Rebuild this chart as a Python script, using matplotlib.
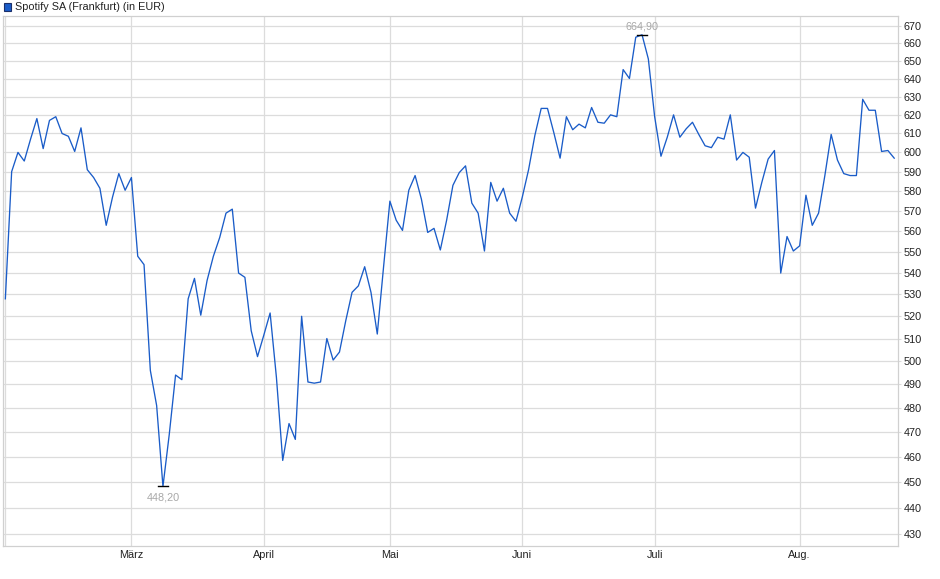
import matplotlib
matplotlib.use("Agg")
import matplotlib.pyplot as plt
import matplotlib.ticker as mticker
from matplotlib.patches import Rectangle
import numpy as np

plt.rcParams['font.family'] = ['Liberation Sans', 'DejaVu Sans']

title = "Spotify SA (Frankfurt) (in EUR)"

# Schlusskurse je Handelstag, 03.02. - 22.08.
prices = [
    528, 590, 600, 595.5, 607, 618, 602, 617, 619, 610,
    608.5, 600.5, 613, 591, 587, 581.5, 563, 577, 589, 580.5,
    587, 548, 544, 496, 481, 448.2, 469, 494, 492, 528,
    537.5, 520.5, 536.5, 548, 557, 569, 571, 540, 538, 513.5,
    502, 511.5, 521.5, 493, 458.5, 473.5, 467, 520, 491, 490.5,
    491, 510, 500.5, 504, 518, 531, 534, 543, 531, 512,
    543, 575, 565.5, 560.5, 580.5, 588, 576, 559.5, 561.5, 551,
    565.5, 583, 589.5, 593, 574, 569, 550.5, 584.5, 575, 581.5,
    569, 565, 577, 591, 609, 623.5, 623.5, 610.5, 597, 619,
    612, 615, 613, 624, 616, 615.5, 620, 619, 645, 640,
    663.5, 664.9, 651, 619, 598, 608, 620, 608, 612.5, 616,
    609.5, 603.5, 602.5, 608, 607, 620, 596, 600, 597.5, 571.5,
    584.5, 596.5, 601, 540, 557.5, 550.5, 553, 578, 563, 569,
    588, 609.5, 596, 589, 588, 588, 628.5, 622.5, 622.5, 600.5,
    601, 597,
]

month_labels = ["", "März", "April", "Mai", "Juni", "Juli", "Aug."]
month_pos = [0, 20, 41, 61, 82, 103, 126]
y_ticks = list(range(430, 680, 10))

line_col = "#1a5cc8"
grid_col = "#dcdcdc"
fs = 7.8

fig = plt.figure(figsize=(9.4, 5.79), dpi=100)
ax = fig.add_axes([2.7 / 940, 33.3 / 579, 895.6 / 940, 529.7 / 579])

x = np.arange(len(prices))
y = np.array(prices)
ax.plot(x, y, color=line_col, lw=0.95, zorder=3)

ax.set_yscale('log')
ax.set_ylim(425.6, 675.9)
ax.set_xlim(-0.42, 141.65)
ax.yaxis.set_major_locator(mticker.FixedLocator(y_ticks))
ax.yaxis.set_major_formatter(mticker.FixedFormatter([str(v) for v in y_ticks]))
ax.yaxis.set_minor_locator(mticker.NullLocator())
ax.xaxis.set_major_locator(mticker.FixedLocator(month_pos))
ax.xaxis.set_major_formatter(mticker.FixedFormatter(month_labels))
ax.xaxis.set_minor_locator(mticker.NullLocator())
ax.yaxis.tick_right()
ax.tick_params(axis='y', length=2.5, color=grid_col, pad=1.5, labelsize=fs, labelcolor='#222222')
ax.tick_params(axis='x', length=0, pad=3, labelsize=fs, labelcolor='#222222')
ax.grid(True, color=grid_col, lw=0.9, zorder=0)
for s in ax.spines.values():
    s.set_color('#d0d0d0')
    s.set_linewidth(0.9)

# Hoch und Tief markieren
for idx, off, va in [(int(np.argmax(y)), 2.5, 'bottom'), (int(np.argmin(y)), -4, 'top')]:
    v = y[idx]
    ax.plot([idx - 0.75, idx + 0.75], [v, v], color='black', lw=1.0, zorder=4)
    ax.annotate(f"{v:.2f}".replace('.', ','), (idx, v), xytext=(0, off),
                textcoords='offset points', ha='center', va=va,
                fontsize=fs, color='#a8a8a8')

fig.add_artist(Rectangle((4 / 940, 1 - 10.5 / 579), 7 / 940, 7.5 / 579,
                         transform=fig.transFigure, facecolor=line_col,
                         edgecolor='#1b2f6a', lw=0.8))
fig.text(15 / 940, 1 - 6.5 / 579, title, fontsize=fs, color='#222222',
         ha='left', va='center')

fig.savefig("out.png", dpi=100)
